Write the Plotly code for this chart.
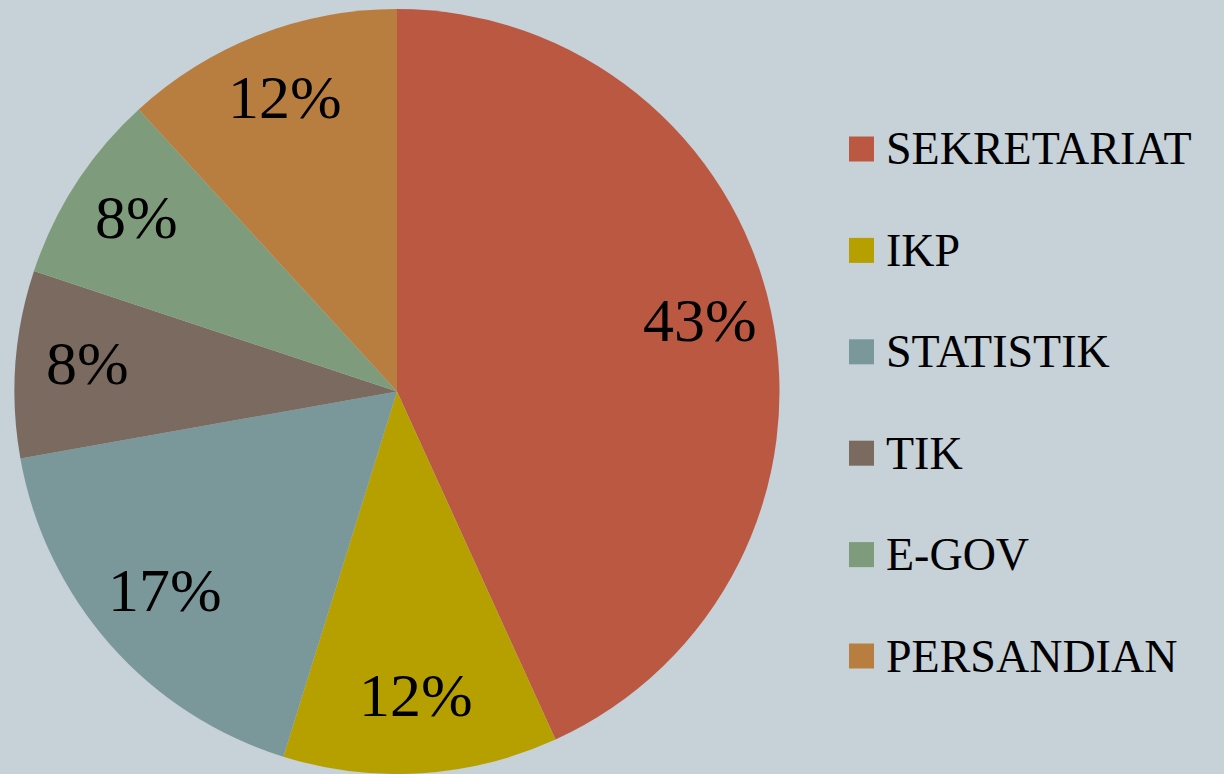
import math
import plotly.graph_objects as go

labels = ["SEKRETARIAT", "IKP", "STATISTIK", "TIK", "E-GOV", "PERSANDIAN"]
values = [43.2, 11.6, 17.4, 7.9, 8.1, 11.8]
colors = ["#BB5842", "#B5A000", "#7A979A", "#7A6A60", "#7E9C7B", "#B87E40"]

BG = "#C6D1D8"
W, H = 1224, 774

# pie geometry in pixels
cx, cy, R = 397.0, 391.5, 382.5
dom_x = [(cx - R) / W, (cx + R) / W]
dom_y = [(H - cy - R) / H, (H - cy + R) / H]

fig = go.Figure()
fig.add_trace(go.Pie(
    labels=labels, values=values, sort=False, direction="clockwise", rotation=0,
    marker=dict(colors=colors, line=dict(width=0)),
    textinfo="none",
    domain=dict(x=dom_x, y=dom_y),
    showlegend=False, hoverinfo="label+percent",
))

# percentage labels at slice mid-angles
total = sum(values)
cum = 0.0
LBL_R = 0.81
for v in values:
    mid = (cum + v / 2) / total * 2 * math.pi
    cum += v
    px = cx + LBL_R * R * math.sin(mid)
    py = cy - LBL_R * R * math.cos(mid) - 6
    fig.add_annotation(xref="paper", yref="paper", x=px / W, y=1 - py / H,
                       text=f"{round(v / total * 100)}%", showarrow=False,
                       xanchor="center", yanchor="middle",
                       font=dict(family="Liberation Serif", size=62, color="black"))

# custom legend
y0 = 149
step = 101.4
for i, (lab, col) in enumerate(zip(labels, colors)):
    yc = y0 + i * step
    fig.add_shape(type="rect", xref="paper", yref="paper",
                  x0=849 / W, x1=874 / W, y0=1 - (yc + 12.5) / H, y1=1 - (yc - 12.5) / H,
                  fillcolor=col, line=dict(width=0))
    fig.add_annotation(xref="paper", yref="paper", x=884 / W, y=1 - yc / H,
                       text=lab, showarrow=False, xanchor="left", yanchor="middle",
                       font=dict(family="Liberation Serif", size=46, color="black"))

fig.update_layout(width=W, height=H, paper_bgcolor=BG, plot_bgcolor=BG,
                  margin=dict(l=0, r=0, t=0, b=0))
fig.write_html("out.html", config={"displayModeBar": False},
               post_script="document.body.style.margin='0';document.body.style.background='%s';" % BG)
